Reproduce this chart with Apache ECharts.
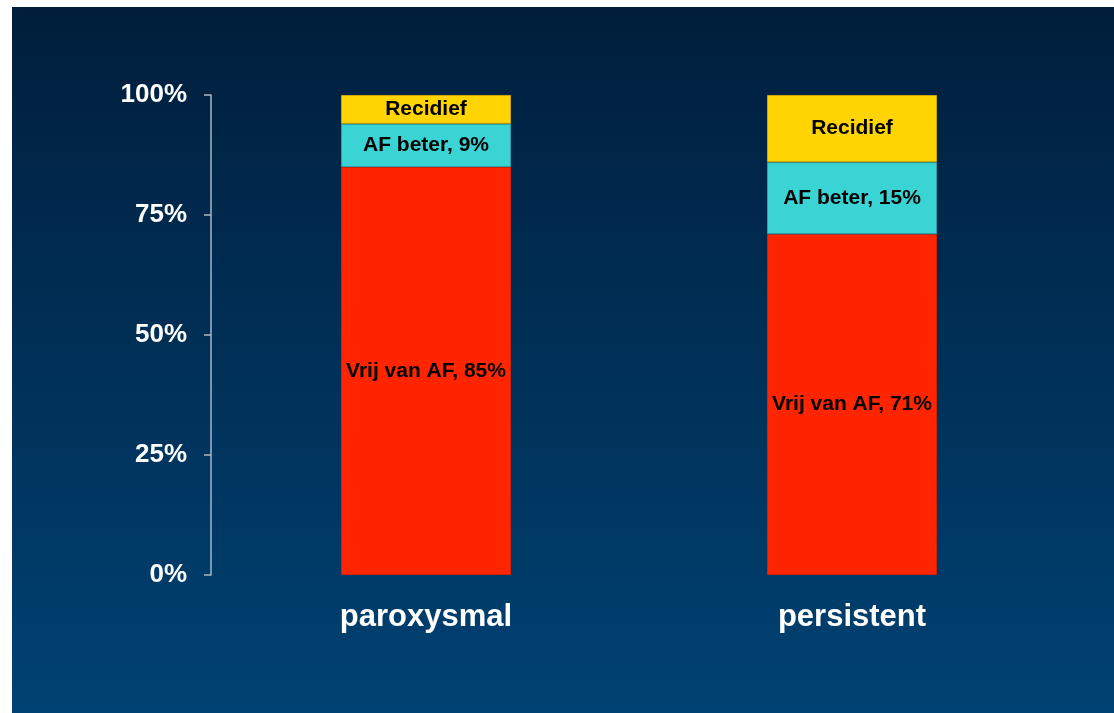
<!DOCTYPE html>
<html>
<head>
<meta charset="utf-8">
<script src="https://cdn.jsdelivr.net/npm/echarts@6/dist/echarts.min.js"></script>
<style>
  html, body { margin: 0; padding: 0; background: #ffffff; }
  #chart { width: 1114px; height: 713px; }
</style>
</head>
<body>
<div id="chart"></div>
<script>
// AF outcome after treatment, by type of atrial fibrillation
const categories = ['paroxysmal', 'persistent'];
const freeOfAF = [85, 71];      // Vrij van AF
const improvedAF = [9, 15];     // AF beter
const relapse = [6, 14];        // Recidief
const yTicks = [0, 25, 50, 75, 100];

const FONT = '"Liberation Sans", Arial, Helvetica, sans-serif';

const chart = echarts.init(document.getElementById('chart'), null, { renderer: 'canvas' });

function segLabel(fmt) {
  return {
    show: true,
    position: 'inside',
    formatter: fmt,
    color: '#000000',
    fontFamily: FONT,
    fontWeight: 'bold',
    fontSize: 21
  };
}

chart.setOption({
  backgroundColor: '#ffffff',
  animation: false,
  graphic: [{
    type: 'rect',
    z: -10,
    silent: true,
    shape: { x: 12, y: 7, width: 1102, height: 706 },
    style: {
      fill: new echarts.graphic.LinearGradient(0, 0, 0, 1, [
        { offset: 0, color: '#001e3c' },
        { offset: 1, color: '#004273' }
      ])
    }
  }],
  grid: { left: 213, right: 49, top: 95, bottom: 138, containLabel: false },
  xAxis: {
    type: 'category',
    data: categories,
    axisLine: { show: false },
    axisTick: { show: false },
    axisLabel: {
      color: '#ffffff',
      fontFamily: FONT,
      fontWeight: 'bold',
      fontSize: 31,
      margin: 27
    }
  },
  yAxis: {
    type: 'value',
    min: yTicks[0],
    max: yTicks[yTicks.length - 1],
    interval: 25,
    offset: 2,
    splitLine: { show: false },
    axisLine: { show: true, lineStyle: { color: '#a9b6c4', width: 1.5 } },
    axisTick: { show: true, length: 7, lineStyle: { color: '#a9b6c4', width: 1.5 } },
    axisLabel: {
      formatter: '{value}%',
      color: '#ffffff',
      fontFamily: FONT,
      fontWeight: 'bold',
      fontSize: 26,
      margin: 24,
      padding: [5, 0, 0, 0]
    }
  },
  series: [
    {
      name: 'Vrij van AF',
      type: 'bar',
      stack: 'total',
      barWidth: 170,
      data: freeOfAF,
      itemStyle: { color: '#ff2500', borderColor: '#d22000', borderWidth: 1 },
      label: segLabel(p => 'Vrij van AF, ' + p.value + '%')
    },
    {
      name: 'AF beter',
      type: 'bar',
      stack: 'total',
      barWidth: 170,
      data: improvedAF,
      itemStyle: { color: '#3ad4d4', borderColor: '#2a9fa8', borderWidth: 1 },
      label: segLabel(p => 'AF beter, ' + p.value + '%')
    },
    {
      name: 'Recidief',
      type: 'bar',
      stack: 'total',
      barWidth: 170,
      data: relapse,
      itemStyle: { color: '#ffd400', borderColor: '#c9a800', borderWidth: 1 },
      label: segLabel('Recidief')
    }
  ]
});
</script>
</body>
</html>
